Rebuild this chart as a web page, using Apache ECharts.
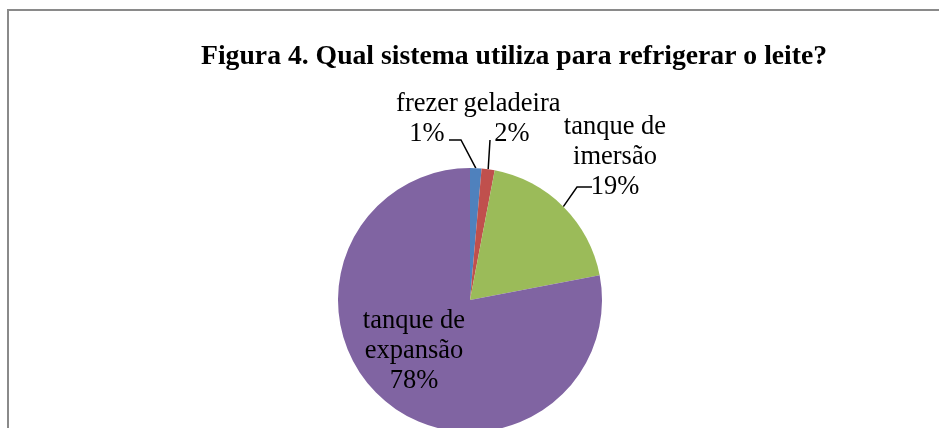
<!DOCTYPE html>
<html>
<head>
<meta charset="utf-8">
<script src="https://cdn.jsdelivr.net/npm/echarts@6/dist/echarts.min.js"></script>
<style>
  html, body { margin: 0; padding: 0; background: #fff; }
  #chart { width: 939px; height: 428px; }
</style>
</head>
<body>
<div id="chart"></div>
<script>
const categories = ["frezer", "geladeira", "tanque de\nimersão", "tanque de\nexpansão"];
const values = [1.4, 1.6, 19.0, 78.0];
const colors = ["#4F81BD", "#C0504D", "#9BBB59", "#8064A2"];

// label centres (px), one per slice
const labelPos = [
  [427, 119],
  [512, 119],
  [615, 157],
  [414, 351],
];
// leader line end relative to label centre, plus horizontal elbow length
const leader = [
  { end: [22, 21], elbow: 12 },
  { end: [-22, 21], elbow: 0 },
  { end: [-23, 30], elbow: -15 },
  null,
];

const chart = echarts.init(document.getElementById("chart"));

chart.setOption({
  animation: false,
  title: {
    text: "Figura 4. Qual sistema utiliza para refrigerar o leite?",
    left: 196,
    top: 38,
    textStyle: {
      fontFamily: "Liberation Serif",
      fontWeight: "bold",
      fontSize: 27.7,
      color: "#000",
    },
  },
  graphic: [
    {
      type: "rect",
      shape: { x: 8, y: 10, width: 1000, height: 500 },
      style: { fill: "none", stroke: "#8a8a8a", lineWidth: 2 },
      z: -1,
    },
  ],
  series: [
    {
      type: "pie",
      center: [470, 300],
      radius: 132,
      startAngle: 90,
      clockwise: true,
      data: categories.map((name, i) => ({
        name: name,
        value: values[i],
        itemStyle: { color: colors[i] },
        label: i === 3 ? { position: "inside" } : undefined,
        labelLine: i === 3 ? { show: false } : undefined,
      })),
      itemStyle: { borderWidth: 0 },
      label: {
        show: true,
        position: "outside",
        formatter: (p) => p.name + "\n" + Math.round(p.percent) + "%",
        fontFamily: "Liberation Serif",
        fontSize: 26.5,
        lineHeight: 30,
        color: "#000",
        align: "center",
      },
      labelLine: {
        show: true,
        length: 10,
        length2: 10,
        lineStyle: { color: "#000", width: 1.5 },
      },
      labelLayout: (params) => {
        const i = params.dataIndex;
        const pos = labelPos[i];
        const out = {
          x: pos[0],
          y: pos[1],
          align: "center",
          verticalAlign: "middle",
        };
        const l = leader[i];
        if (l && params.labelLinePoints) {
          const start = params.labelLinePoints[0];
          const end = [pos[0] + l.end[0], pos[1] + l.end[1]];
          const elbow = [end[0] + l.elbow, end[1]];
          out.labelLinePoints = [start, elbow, end];
        }
        return out;
      },
      emphasis: { disabled: true },
    },
  ],
});
</script>
</body>
</html>
